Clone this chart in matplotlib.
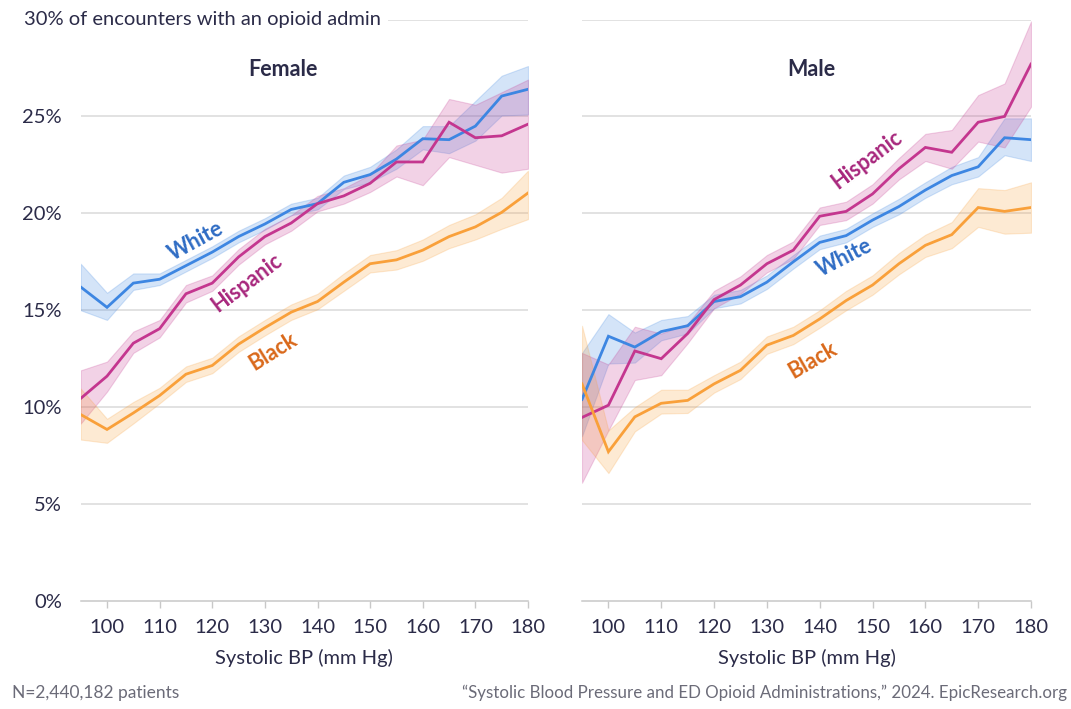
import matplotlib
matplotlib.use("Agg")
import matplotlib.pyplot as plt
import numpy as np

plt.rcParams['font.family'] = ['Lato', 'DejaVu Sans']

# ---------------- data ----------------
bp = [95, 100, 105, 110, 115, 120, 125, 130, 135, 140, 145, 150, 155, 160, 165, 170, 175, 180]

f_white = [16.2, 15.15, 16.4, 16.6, 17.3, 18.0, 18.8, 19.45, 20.2, 20.5, 21.6, 22.0, 22.8, 23.85, 23.8, 24.5, 26.05, 26.4]
f_white_lo = [15.0, 14.5, 16.05, 16.3, 17.0, 17.7, 18.5, 19.15, 19.9, 20.2, 21.25, 21.6, 22.3, 23.3, 23.1, 23.75, 25.05, 25.1]
f_white_hi = [17.4, 15.9, 16.9, 16.9, 17.6, 18.3, 19.1, 19.75, 20.5, 20.8, 21.95, 22.4, 23.3, 24.5, 24.5, 25.8, 27.1, 27.6]

f_hisp = [10.45, 11.6, 13.3, 14.05, 15.85, 16.4, 17.75, 18.8, 19.5, 20.5, 20.9, 21.55, 22.65, 22.65, 24.7, 23.9, 24.0, 24.6]
f_hisp_lo = [9.15, 10.8, 12.8, 13.6, 15.4, 16.0, 17.35, 18.4, 19.1, 20.1, 20.5, 21.1, 21.9, 21.45, 22.9, 22.5, 22.1, 22.3]
f_hisp_hi = [11.9, 12.35, 13.9, 14.5, 16.3, 16.8, 18.15, 19.2, 19.9, 20.9, 21.3, 22.0, 23.5, 23.8, 25.9, 25.6, 26.25, 26.9]

f_black = [9.62, 8.85, 9.7, 10.6, 11.7, 12.15, 13.25, 14.1, 14.9, 15.45, 16.45, 17.4, 17.6, 18.1, 18.8, 19.3, 20.05, 21.05]
f_black_lo = [8.33, 8.16, 9.16, 10.2, 11.3, 11.75, 12.85, 13.7, 14.5, 15.05, 16.0, 16.95, 17.1, 17.55, 18.2, 18.65, 19.2, 19.7]
f_black_hi = [10.96, 9.4, 10.27, 11.0, 12.1, 12.55, 13.65, 14.5, 15.3, 15.85, 16.9, 17.85, 18.1, 18.65, 19.4, 19.95, 20.8, 22.2]

m_white = [10.4, 13.66, 13.1, 13.9, 14.2, 15.45, 15.7, 16.45, 17.5, 18.5, 18.85, 19.65, 20.35, 21.2, 21.95, 22.4, 23.9, 23.8]
m_white_lo = [8.5, 12.25, 12.3, 13.45, 13.8, 15.1, 15.35, 16.1, 17.15, 18.15, 18.5, 19.3, 19.95, 20.8, 21.5, 21.9, 23.0, 22.7]
m_white_hi = [12.8, 14.8, 13.85, 14.5, 14.7, 15.8, 16.05, 16.8, 17.85, 18.85, 19.2, 20.0, 20.75, 21.6, 22.4, 22.9, 24.9, 24.9]

m_hisp = [9.47, 10.1, 12.9, 12.5, 13.8, 15.55, 16.3, 17.4, 18.1, 19.85, 20.1, 21.0, 22.3, 23.4, 23.15, 24.7, 25.0, 27.7]
m_hisp_lo = [6.1, 8.8, 11.4, 11.65, 13.3, 15.1, 15.85, 16.95, 17.65, 19.4, 19.65, 20.5, 21.75, 22.7, 22.3, 23.7, 23.4, 25.5]
m_hisp_hi = [12.8, 12.2, 14.15, 13.8, 14.3, 16.0, 16.75, 17.85, 18.55, 20.3, 20.6, 21.5, 22.85, 24.1, 24.3, 26.1, 26.7, 29.9]

m_black = [11.2, 7.7, 9.5, 10.2, 10.35, 11.2, 11.9, 13.2, 13.7, 14.55, 15.5, 16.3, 17.4, 18.35, 18.9, 20.3, 20.1, 20.3]
m_black_lo = [8.3, 6.6, 8.75, 9.67, 9.7, 10.75, 11.45, 12.75, 13.25, 14.1, 15.0, 15.8, 16.85, 17.75, 18.2, 19.3, 18.95, 19.0]
m_black_hi = [14.2, 8.8, 10.0, 10.9, 10.9, 11.65, 12.35, 13.65, 14.15, 15.0, 16.0, 16.8, 17.95, 18.9, 19.55, 21.3, 21.2, 21.6]

x_ticks = [100, 110, 120, 130, 140, 150, 160, 170, 180]
y_ticks = [0, 5, 10, 15, 20, 25]
y_tick_labels = ["0%", "5%", "10%", "15%", "20%", "25%"]

# ---------------- style ----------------
C_WHITE, C_HISP, C_BLACK = "#3d86e2", "#c4368f", "#f9a03a"
T_WHITE, T_HISP, T_BLACK = "#2f6cc4", "#a8287d", "#d9681a"
TXT = "#2b2b48"
GRID = "#dadada"

W, H = 1071, 709
fig = plt.figure(figsize=(W / 100, H / 100), dpi=100)

def px_axes(x0, x1, ytop, ybot):
    return [x0 / W, 1 - ybot / H, (x1 - x0) / W, (ybot - ytop) / H]

axL = fig.add_axes(px_axes(80.7, 528, 19.5, 601))
axR = fig.add_axes(px_axes(582, 1031, 19.5, 601))

panels = [
    (axL, "Female", 283,
     [(f_white, f_white_lo, f_white_hi, C_WHITE),
      (f_hisp, f_hisp_lo, f_hisp_hi, C_HISP),
      (f_black, f_black_lo, f_black_hi, C_BLACK)],
     [("White", 116.9, 18.56, 28.5, T_WHITE),
      ("Hispanic", 126.6, 16.39, 37, T_HISP),
      ("Black", 131.5, 12.89, 32, T_BLACK)]),
    (axR, "Male", 811,
     [(m_white, m_white_lo, m_white_hi, C_WHITE),
      (m_hisp, m_hisp_lo, m_hisp_hi, C_HISP),
      (m_black, m_black_lo, m_black_hi, C_BLACK)],
     [("Hispanic", 148.96, 22.78, 37, T_HISP),
      ("White", 144.6, 17.73, 27, T_WHITE),
      ("Black", 138.7, 12.42, 30, T_BLACK)]),
]

for ax, title, title_px, series, labels in panels:
    ax.set_xlim(95, 180)
    ax.set_ylim(0, 30)
    for yv in [5, 10, 15, 20, 25, 30]:
        ax.axhline(yv, color=GRID, lw=1.1, zorder=0)
    for vals, lo, hi, col in series:
        ax.fill_between(bp, lo, hi, color=col, alpha=0.22, lw=0.8, edgecolor=col, zorder=1)
    for vals, lo, hi, col in series:
        ax.plot(bp, vals, color=col, lw=2.0, zorder=3, solid_joinstyle='miter')
    for txt, xv, yv, rot, col in labels:
        ax.text(xv, yv, txt, rotation=rot, rotation_mode='anchor', ha='center', va='center',
                fontsize=15.5, fontweight='bold', color=col, zorder=4)
    fig.text(title_px / W, 1 - 69 / H, title, ha='center', va='center',
             fontsize=15.5, fontweight='bold', color=TXT)
    for s in ['top', 'right', 'left']:
        ax.spines[s].set_visible(False)
    ax.spines['bottom'].set_color("#c8c8c8")
    ax.spines['bottom'].set_linewidth(1.1)
    ax.set_xticks(x_ticks)
    ax.set_xticklabels([str(v) for v in x_ticks])
    ax.tick_params(axis='x', length=5, width=1, color="#c8c8c8", labelsize=14.5, labelcolor=TXT, pad=8)
    ax.set_xlabel("Systolic BP (mm Hg)", fontsize=14.5, color=TXT, labelpad=9)
    ax.set_yticks(y_ticks)
    ax.tick_params(axis='y', length=0, labelsize=14.5, labelcolor=TXT, pad=13.5)

axL.set_yticklabels(y_tick_labels)
axR.set_yticklabels([])

fig.text(24 / W, 1 - 19.5 / H, "30% of encounters with an opioid admin", ha='left', va='center',
         fontsize=14.5, color=TXT,
         bbox=dict(boxstyle='square,pad=0.35', facecolor='white', edgecolor='none'))

fig.text(12 / W, 1 - 693 / H, "N=2,440,182 patients", ha='left', va='center', fontsize=12.5, color="#6b6b78")
fig.text(1067 / W, 1 - 693 / H, "\u201cSystolic Blood Pressure and ED Opioid Administrations,\u201d 2024. EpicResearch.org",
         ha='right', va='center', fontsize=12.2, color="#6b6b78")

fig.savefig("out.png", dpi=100)
